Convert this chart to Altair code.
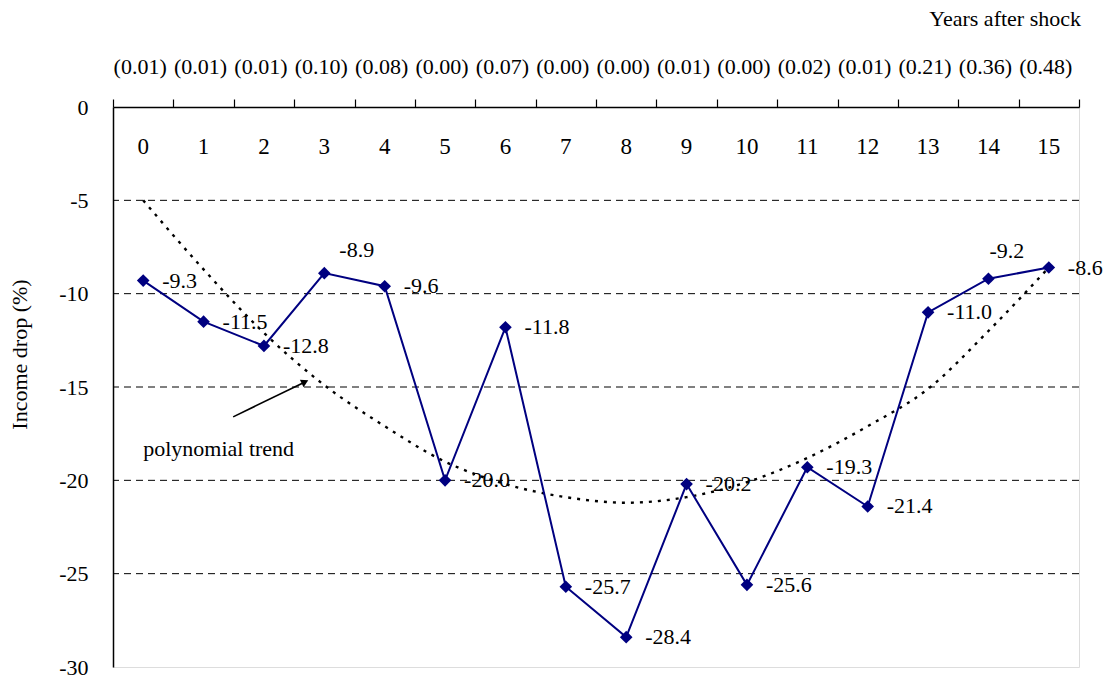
import altair as alt
import pandas as pd

# ---- data ----
years = list(range(16))
income_drop = [-9.3, -11.5, -12.8, -8.9, -9.6, -20.0, -11.8, -25.7,
               -28.4, -20.2, -25.6, -19.3, -21.4, -11.0, -9.2, -8.6]
p_values = ["(0.01)", "(0.01)", "(0.01)", "(0.10)", "(0.08)", "(0.00)",
            "(0.07)", "(0.00)", "(0.00)", "(0.01)", "(0.00)", "(0.02)",
            "(0.01)", "(0.21)", "(0.36)", "(0.48)"]
trend = [-5.0, -8.7, -12.1, -14.9, -17.1, -19.0, -20.2, -20.9,
         -21.2, -20.9, -20.1, -18.8, -17.1, -15.1, -12.0, -8.6]
grid_levels = [-5, -10, -15, -20, -25]
y_ticks = [0, -5, -10, -15, -20, -25, -30]
x_ticks = [i - 0.5 for i in range(17)]
above_a = [3]
above_b = [14]

annot_text = "polynomial trend"
annot_x, annot_y = 0.0, -18.3
arrow_x0, arrow_y0 = 1.49, -16.6
arrow_x1, arrow_y1 = 2.68, -14.73

df = pd.DataFrame({
    "year": years,
    "drop": income_drop,
    "p": p_values,
    "trend": trend,
    "label": [f"{v:.1f}" for v in income_drop],
})
grid_df = pd.DataFrame({"level": grid_levels})
annot_df = pd.DataFrame({"x": [annot_x], "y": [annot_y], "t": [annot_text]})
arrow_df = pd.DataFrame({"x0": [arrow_x0], "y0": [arrow_y0],
                         "x1": [arrow_x1], "y1": [arrow_y1]})

FONT = "Liberation Serif"
FS = 22
NAVY = "#000080"

xscale = alt.Scale(domain=[-0.5, 15.5], nice=False, zero=False)
yscale = alt.Scale(domain=[-30, 0], nice=False)
xaxis = alt.Axis(orient="top", values=x_ticks, labels=False, tickSize=8,
                 tickColor="black", tickWidth=1.2, domainColor="black",
                 domainWidth=1.5, grid=False)
yaxis = alt.Axis(orient="left", values=y_ticks, labelFont=FONT,
                 labelFontSize=FS, labelColor="black", labelPadding=25,
                 labelExpr="toString(datum.value)",
                 tickSize=0, domainColor="black", domainWidth=1.5,
                 grid=False, titleFont=FONT, titleFontSize=FS,
                 titleFontWeight="normal", titleColor="black",
                 titleX=-94, titleY=247, titleAngle=270,
                 titleBaseline="middle", titleAlign="center")

X = alt.X("year:Q", scale=xscale, axis=xaxis, title=None)
Y = alt.Y("drop:Q", scale=yscale, axis=yaxis, title="Income drop (%)")

grid = alt.Chart(grid_df).mark_rule(color="black", strokeWidth=1,
                                    strokeDash=[7, 5]).encode(
    y=alt.Y("level:Q", scale=yscale, axis=yaxis, title="Income drop (%)")
)

trend_line = alt.Chart(df).mark_line(color="black", strokeWidth=2.4,
                                     strokeDash=[3, 6],
                                     interpolate="monotone").encode(
    x=X, y=alt.Y("trend:Q", scale=yscale, axis=yaxis, title="Income drop (%)")
)

line = alt.Chart(df).mark_line(color=NAVY, strokeWidth=2).encode(x=X, y=Y)
points = alt.Chart(df).mark_point(shape="diamond", filled=True, color=NAVY,
                                  size=160, opacity=1).encode(x=X, y=Y)

label_base = alt.Chart(df).encode(x=X, y=Y, text="label:N")
labels_main = label_base.transform_filter(
    ~alt.FieldOneOfPredicate(field="year", oneOf=above_a + above_b)
).mark_text(align="left", baseline="middle", dx=19, font=FONT,
            fontSize=FS, color="black")
labels_a = label_base.transform_filter(
    alt.FieldOneOfPredicate(field="year", oneOf=above_a)
).mark_text(align="left", baseline="middle", dx=15, dy=-23, font=FONT,
            fontSize=FS, color="black")
labels_b = label_base.transform_filter(
    alt.FieldOneOfPredicate(field="year", oneOf=above_b)
).mark_text(align="left", baseline="middle", dx=1, dy=-28, font=FONT,
            fontSize=FS, color="black")

year_labels = alt.Chart(df).mark_text(baseline="middle", font=FONT,
                                      fontSize=23, color="black").encode(
    x=X, y=alt.value(40), text="year:N"
)
p_labels = alt.Chart(df).mark_text(baseline="middle", font=FONT,
                                   fontSize=FS, color="black", dx=-3).encode(
    x=X, y=alt.value(-40), text="p:N"
)
years_title = alt.Chart(df.head(1)).mark_text(
    align="right", baseline="middle", font=FONT, fontSize=FS, color="black"
).encode(x=alt.value(968), y=alt.value(-88),
         text=alt.value("Years after shock"))

annot = alt.Chart(annot_df).mark_text(align="left", baseline="middle",
                                      font=FONT, fontSize=FS,
                                      color="black").encode(
    x=alt.X("x:Q", scale=xscale, axis=xaxis, title=None),
    y=alt.Y("y:Q", scale=yscale, axis=yaxis, title="Income drop (%)"),
    text="t:N",
)
arrow = alt.Chart(arrow_df).mark_rule(color="black", strokeWidth=1.6).encode(
    x=alt.X("x0:Q", scale=xscale, axis=xaxis, title=None), x2="x1:Q",
    y=alt.Y("y0:Q", scale=yscale, axis=yaxis, title="Income drop (%)"),
    y2="y1:Q",
)
arrow_head = alt.Chart(arrow_df).mark_point(shape="triangle-right",
                                            filled=True, color="black",
                                            size=70, angle=334,
                                            opacity=1).encode(
    x=alt.X("x1:Q", scale=xscale, axis=xaxis, title=None),
    y=alt.Y("y1:Q", scale=yscale, axis=yaxis, title="Income drop (%)"),
)

chart = alt.layer(
    grid, trend_line, line, points, labels_main, labels_a, labels_b,
    year_labels, p_labels, years_title, annot, arrow, arrow_head
).properties(
    width=966, height=560,
    autosize=alt.AutoSizeParams(type="none"),
    padding={"left": 105, "top": 99, "right": 28, "bottom": 15},
).configure_view(
    stroke="#9a9a9a", strokeWidth=2
).configure(background="white")

chart.save("out.html", embed_options={"renderer": "svg", "actions": False})
